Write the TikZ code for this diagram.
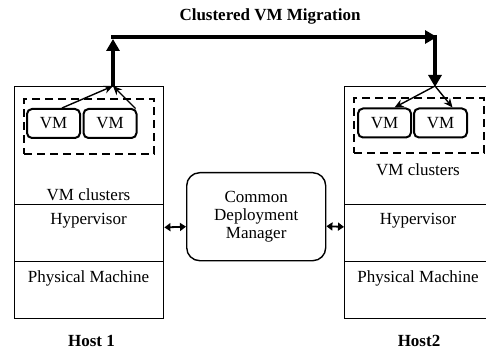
\documentclass[tikz,border=0pt]{standalone}
\usepackage{fontspec}
\setmainfont{Liberation Serif}
\usetikzlibrary{arrows.meta,calc}
\begin{document}
\begin{tikzpicture}[x=1pt,y=-1pt,
  every node/.style={font=\fontsize{17}{18}\selectfont},
  layer/.style={draw,line width=1.4pt,rectangle,inner sep=0pt,anchor=north west},
  vmbox/.style={draw,line width=2pt,rounded corners=5pt,minimum width=53pt,minimum height=29pt,inner sep=0pt},
  clusterbox/.style={draw,line width=2.4pt,dash pattern=on 8pt off 5pt,inner sep=0pt,anchor=north west},
  lbl/.style={anchor=base,inner sep=0pt},
  hostlbl/.style={anchor=base,inner sep=0pt,font=\fontsize{17}{18}\selectfont\bfseries},
  migrate/.style={line width=4pt,-{Triangle[length=12pt,width=13pt]}},
  spread/.style={line width=1.4pt,-{Stealth[length=9pt,width=8pt]}},
  link/.style={line width=1.8pt,{Triangle[length=6pt,width=8pt]}-{Triangle[length=6pt,width=8pt]}}]
\useasboundingbox (0,0) rectangle (486,352);
\clip (0,0) rectangle (486,352);

% Host 1 layers
\node[layer,minimum width=149pt,minimum height=118pt] (clA) at (14,86) {};
\node[layer,minimum width=149pt,minimum height=57pt] (hypA) at (14,204) {};
\node[layer,minimum width=149pt,minimum height=57pt] (phyA) at (14,261) {};
\node[lbl] (clAt) at (88.5,201) {VM clusters};
\node[lbl] (hypAt) at (88.5,225) {Hypervisor};
\node[lbl] (phyAt) at (88.5,282) {Physical Machine};

% Host 2 layers
\node[layer,minimum width=149pt,minimum height=118pt] (clB) at (344,86) {};
\node[layer,minimum width=149pt,minimum height=57pt] (hypB) at (344,204) {};
\node[layer,minimum width=149pt,minimum height=57pt] (phyB) at (344,261) {};
\node[lbl] (clBt) at (418,176) {VM clusters};
\node[lbl] (hypBt) at (418,225) {Hypervisor};
\node[lbl] (phyBt) at (418,282) {Physical Machine};

% VM clusters
\node[clusterbox,minimum width=130pt,minimum height=55pt] (grpA) at (23,98) {};
\node[clusterbox,minimum width=130pt,minimum height=55pt] (grpB) at (353,97) {};
\node[vmbox] (vmA) at (53.5,123.5) {VM};
\node[vmbox] (vmB) at (110,123.5) {VM};
\node[vmbox] (vmC) at (384.5,123) {VM};
\node[vmbox] (vmD) at (440.5,123) {VM};

% Deployment manager
\node[draw,line width=1.4pt,rounded corners=13pt,minimum width=139pt,minimum height=88pt,
      align=center,inner sep=0pt,font=\fontsize{17}{18}\selectfont] (cdm) at (256.2,216.7)
      {Common\\Deployment\\Manager};

% Migration path
\coordinate (src) at (113,86);
\coordinate (upc) at (113,37);
\coordinate (rtc) at (435,37);
\coordinate (dst) at (435,86);
\draw[spread] ([xshift=8.5pt]vmA.north) -- (src);
\draw[spread] ([xshift=-2pt,yshift=-0.5pt]vmB.north east) -- (src);
\draw[migrate] (src) -- ([yshift=-2pt]upc);
\draw[migrate] ([xshift=-2pt]upc) -- ([xshift=2pt]rtc);
\draw[migrate,shorten >=-1pt] ([yshift=2pt]rtc) -- (dst);
\draw[spread] (dst) -- ([xshift=10pt]vmC.north);
\draw[spread] (dst) -- ([xshift=12pt]vmD.north);

\node[hostlbl] (title) at (270,21) {Clustered VM Migration};

% Links to the manager
\draw[link] ([yshift=5.8pt]hypA.east) -- ([yshift=-10pt]cdm.west);
\draw[link] ([yshift=-9.5pt]cdm.east) -- ([yshift=6.3pt]hypB.west);

\node[hostlbl] (hostA) at (91.5,346) {Host 1};
\node[hostlbl] (hostB) at (419,346) {Host2};
\end{tikzpicture}
\end{document}
